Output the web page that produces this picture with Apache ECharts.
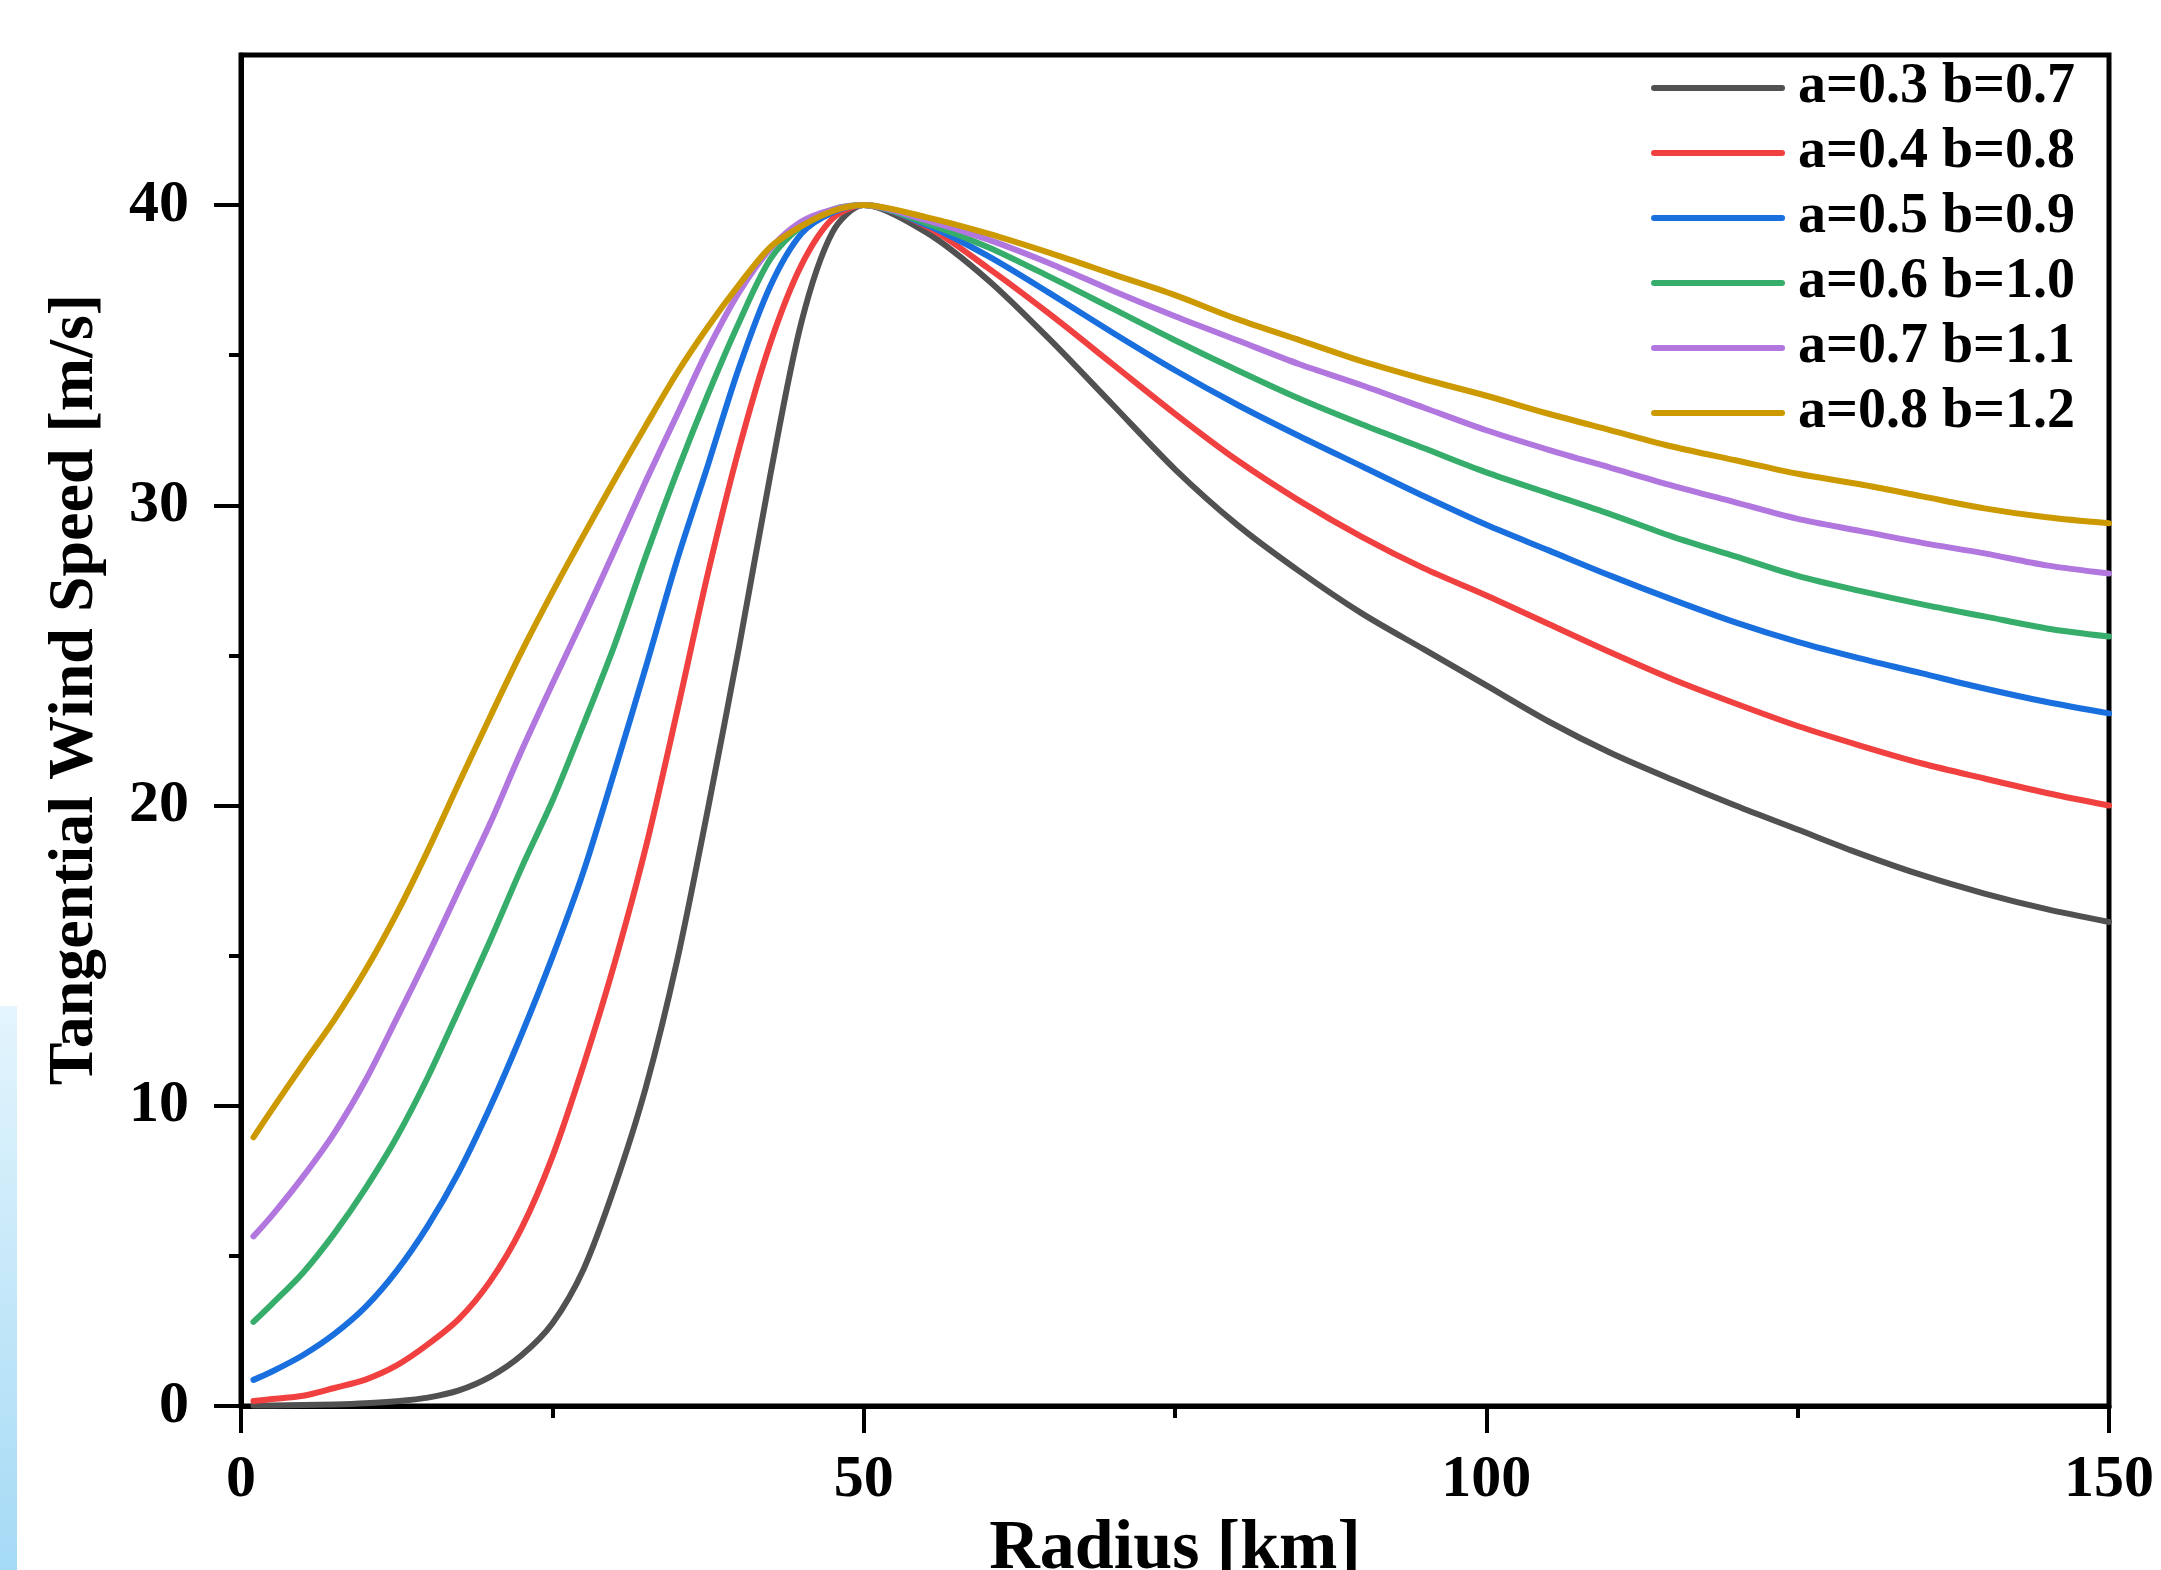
<!DOCTYPE html>
<html>
<head>
<meta charset="utf-8">
<script src="https://cdn.jsdelivr.net/npm/echarts@6/dist/echarts.min.js"></script>
<style>
html,body{margin:0;padding:0;background:#fff;}
#chart{width:2161px;height:1570px;}
</style>
</head>
<body>
<div id="chart"></div>
<script>
// Radius [km]
const radius = [1, 2.5, 5, 7.5, 10, 12.5, 15, 17.5, 20, 22.5, 25, 27.5, 30, 32.5, 35, 37.5, 40, 42.5, 45, 47.5, 50,
  55, 60, 65, 70, 75, 80, 85, 90, 95, 100, 105, 110, 115, 120, 125, 130, 135, 140, 145, 150];

const seriesNames = ['a=0.3 b=0.7', 'a=0.4 b=0.8', 'a=0.5 b=0.9', 'a=0.6 b=1.0', 'a=0.7 b=1.1', 'a=0.8 b=1.2'];
const seriesColors = ['#515151', '#F14040', '#1A6FDF', '#37AD6B', '#B177DE', '#CC9900'];

const vA03 = [0.02, 0.02, 0.03, 0.05, 0.09, 0.16, 0.28, 0.52, 0.97, 1.68, 2.75, 4.55, 7.3, 10.6, 14.8, 19.9, 25.3, 31.0, 36.1, 39.1, 40,
  39.1, 37.5, 35.5, 33.35, 31.2, 29.35, 27.8, 26.4, 25.2, 24.0, 22.8, 21.75, 20.85, 20.0, 19.2, 18.4, 17.68, 17.07, 16.55, 16.12];
const vA04 = [0.17, 0.23, 0.34, 0.6, 0.88, 1.35, 2.05, 2.9, 4.15, 5.9, 8.3, 11.35, 14.75, 18.6, 23.1, 27.75, 31.9, 35.4, 38.0, 39.55, 40,
  39.3, 37.9, 36.35, 34.7, 33.05, 31.5, 30.15, 28.95, 27.9, 27.0, 26.05, 25.1, 24.2, 23.4, 22.65, 22.0, 21.4, 20.9, 20.42, 20.0];
const vA05 = [0.87, 1.15, 1.7, 2.4, 3.3, 4.5, 6.0, 7.8, 9.95, 12.35, 14.95, 17.8, 21.15, 24.6, 28.15, 31.35, 34.6, 37.3, 39.05, 39.75, 40,
  39.35, 38.3, 37.05, 35.75, 34.5, 33.35, 32.3, 31.3, 30.3, 29.35, 28.5, 27.65, 26.85, 26.1, 25.45, 24.9, 24.4, 23.9, 23.45, 23.07];
const vA06 = [2.8, 3.4, 4.45, 5.75, 7.25, 8.95, 10.95, 13.2, 15.5, 17.9, 20.15, 22.7, 25.35, 28.3, 31.1, 33.7, 36.1, 38.2, 39.3, 39.85, 40,
  39.4, 38.6, 37.6, 36.55, 35.5, 34.5, 33.55, 32.7, 31.9, 31.1, 30.4, 29.7, 28.95, 28.3, 27.65, 27.15, 26.7, 26.3, 25.9, 25.63];
const vA07 = [5.65, 6.35, 7.65, 9.1, 10.85, 12.9, 15.0, 17.2, 19.4, 21.8, 24.05, 26.25, 28.5, 30.8, 33.0, 35.2, 37.1, 38.55, 39.45, 39.85, 40,
  39.5, 38.85, 38.05, 37.15, 36.3, 35.5, 34.7, 34.0, 33.25, 32.5, 31.85, 31.25, 30.65, 30.1, 29.55, 29.15, 28.75, 28.4, 28.0, 27.73];
const vA08 = [8.95, 9.88, 11.39, 12.87, 14.52, 16.4, 18.5, 20.75, 22.95, 25.1, 27.1, 29.0, 30.85, 32.65, 34.4, 35.95, 37.35, 38.6, 39.3, 39.8, 40,
  39.6, 39.05, 38.4, 37.7, 37.0, 36.2, 35.5, 34.8, 34.2, 33.65, 33.05, 32.5, 31.95, 31.5, 31.05, 30.7, 30.3, 29.9, 29.6, 29.4];

const seriesValues = [vA03, vA04, vA05, vA06, vA07, vA08];

const yLabelValues = [0, 10, 20, 30, 40];
const yMinorValues = [5, 15, 25, 35];

const FONT = 'Liberation Serif';

const chart = echarts.init(document.getElementById('chart'), null, {renderer: 'canvas'});

const series = seriesNames.map((name, i) => ({
  name: name,
  type: 'line',
  data: radius.map((r, j) => [r, seriesValues[i][j]]),
  symbol: 'none',
  smooth: 0.3,
  clip: true,
  lineStyle: {color: seriesColors[i], width: 6, cap: 'round', join: 'round'},
  itemStyle: {color: seriesColors[i]},
  z: 3
}));

chart.setOption({
  backgroundColor: '#ffffff',
  animation: false,
  grid: {
    left: 241, right: 52, top: 55, bottom: 164,
    outerBoundsMode: 'none',
    containLabel: false,
    show: true, borderColor: '#000', borderWidth: 5, backgroundColor: 'transparent'
  },
  legend: {
    data: seriesNames,
    orient: 'vertical',
    right: 86, top: 60,
    padding: 0,
    itemWidth: 134, itemHeight: 14,
    itemGap: 9,
    icon: 'path://M3,0 L131,0 A3,3 0 0 1 131,6 L3,6 A3,3 0 0 1 3,0 Z',
    textStyle: {fontFamily: FONT, fontWeight: 'bold', fontSize: 56, lineHeight: 50, color: '#000', padding: [0, 0, 0, 8]}
  },
  xAxis: {
    type: 'value', min: 0, max: 150, interval: 50,
    name: 'Radius [km]', nameLocation: 'middle', nameGap: 98,
    nameTextStyle: {fontFamily: FONT, fontWeight: 'bold', fontSize: 70, color: '#000'},
    axisLine: {show: true, onZero: false, lineStyle: {color: '#000', width: 5}},
    axisTick: {show: true, inside: false, length: 27, lineStyle: {color: '#000', width: 4}},
    minorTick: {show: true, splitNumber: 2, length: 12, lineStyle: {color: '#000', width: 4}},
    axisLabel: {fontFamily: FONT, fontWeight: 'bold', fontSize: 60, color: '#000', margin: 44},
    splitLine: {show: false}, minorSplitLine: {show: false}
  },
  yAxis: [{
    type: 'value', min: 0, max: 45, interval: 10,
    name: 'Tangential Wind Speed [m/s]', nameLocation: 'middle', nameGap: 134,
    nameTextStyle: {fontFamily: FONT, fontWeight: 'bold', fontSize: 64, color: '#000', padding: [0, 0, 0, 82]},
    axisLine: {show: true, onZero: false, lineStyle: {color: '#000', width: 5}},
    axisTick: {show: true, inside: false, length: 27, customValues: yLabelValues, lineStyle: {color: '#000', width: 4}},
    axisLabel: {customValues: yLabelValues, fontFamily: FONT, fontWeight: 'bold', fontSize: 60, color: '#000', margin: 52},
    splitLine: {show: false}
  }, {
    type: 'value', min: 0, max: 45, position: 'left', offset: 0,
    axisLine: {show: false},
    axisTick: {show: true, inside: false, length: 12, customValues: yMinorValues, lineStyle: {color: '#000', width: 4}},
    axisLabel: {show: false},
    splitLine: {show: false}
  }],
  graphic: [{
    type: 'rect', left: 0, top: 1006, z: -1,
    shape: {width: 17, height: 564},
    style: {
      fill: new echarts.graphic.LinearGradient(0, 0, 0, 1, [
        {offset: 0, color: '#e4f5fd'},
        {offset: 1, color: '#a5daf5'}
      ])
    }
  }],
  series: series
});
</script>
</body>
</html>
